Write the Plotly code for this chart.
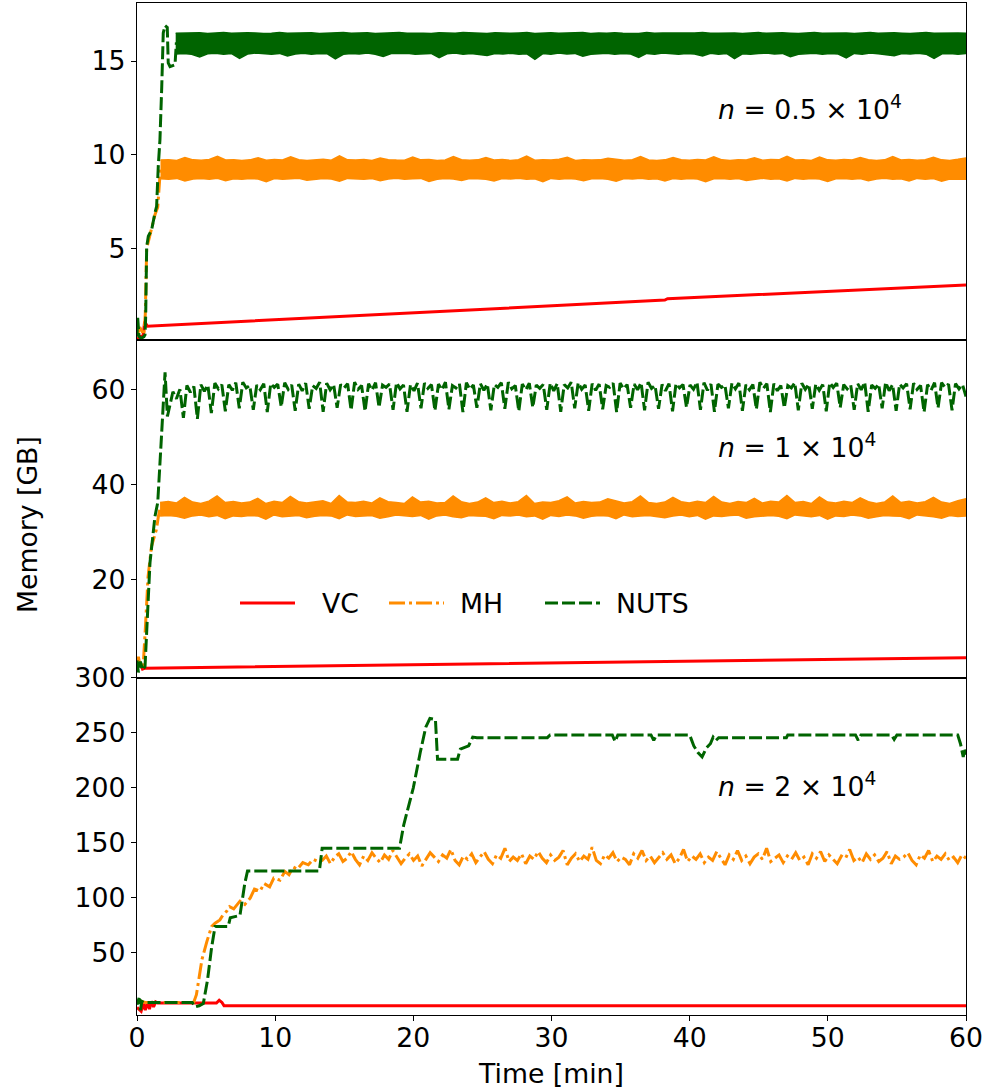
import numpy as np
import plotly.graph_objects as go
from plotly.subplots import make_subplots

RED = "#ff0000"
ORANGE = "#ff8c00"
GREEN = "#006400"
FONT = "DejaVu Sans"
FS = 26.7
DASH_NUTS = "13px,4px"
DASH_MH = "16px,4px,3px,4px"

# ---------------- n = 0.5 x 10^4 ----------------
vc1_t = [0, 0.25, 0.45, 0.55, 0.75, 20, 38.2, 38.4, 60]
vc1_v = [0.15, 0.3, 0.35, 1.1, 0.85, 1.55, 2.25, 2.32, 3.05]

mh1_t = [0, 0.2, 0.5, 0.6, 0.7, 0.9, 1.1, 1.3, 1.5, 1.62, 1.7]
mh1_v = [0.3, 0.8, 0.4, 1.5, 5.0, 5.6, 6.1, 6.8, 7.2, 8.8, 9.3]
mh1_band = (1.7, 60.0)
mh1_hi = [9.72, 9.74, 9.70, 9.86, 9.73, 9.71, 9.75, 9.92, 9.72, 9.74,
          9.70, 9.73, 9.84, 9.71, 9.75, 9.72, 9.89, 9.74, 9.70, 9.73,
          9.76, 9.71, 9.94, 9.73, 9.72, 9.75, 9.70, 9.83, 9.74, 9.72,
          9.71, 9.88, 9.73, 9.75, 9.70, 9.72, 9.90, 9.74, 9.71, 9.73,
          9.85, 9.72, 9.75, 9.70, 9.74, 9.93, 9.71, 9.73, 9.72, 9.76,
          9.87, 9.70, 9.74, 9.72, 9.73, 9.82, 9.75, 9.71, 9.74, 9.91,
          9.72, 9.70, 9.73, 9.86, 9.74, 9.71, 9.75, 9.72, 9.89, 9.73,
          9.70, 9.74, 9.72, 9.84, 9.71, 9.75, 9.73, 9.92, 9.72, 9.74,
          9.70, 9.88, 9.73, 9.71, 9.75, 9.72, 9.85, 9.74, 9.70, 9.73,
          9.90, 9.72, 9.75, 9.71, 9.74, 9.87, 9.73, 9.70, 9.76, 9.83]
mh1_lo = [8.72, 8.70, 8.74, 8.60, 8.71, 8.73, 8.69, 8.75, 8.62, 8.72,
          8.70, 8.74, 8.71, 8.57, 8.73, 8.69, 8.72, 8.75, 8.64, 8.70,
          8.73, 8.71, 8.59, 8.74, 8.72, 8.70, 8.73, 8.61, 8.71, 8.75,
          8.69, 8.72, 8.74, 8.58, 8.70, 8.73, 8.71, 8.63, 8.74, 8.72,
          8.70, 8.60, 8.73, 8.71, 8.75, 8.69, 8.72, 8.56, 8.74, 8.70,
          8.73, 8.71, 8.62, 8.72, 8.74, 8.70, 8.59, 8.73, 8.71, 8.75,
          8.69, 8.72, 8.61, 8.74, 8.70, 8.73, 8.71, 8.57, 8.72, 8.74,
          8.70, 8.73, 8.63, 8.71, 8.75, 8.69, 8.72, 8.60, 8.74, 8.70,
          8.73, 8.71, 8.58, 8.72, 8.74, 8.70, 8.73, 8.62, 8.71, 8.75,
          8.69, 8.72, 8.60, 8.74, 8.70, 8.73, 8.59, 8.71, 8.72, 8.70]

nuts1_t = [0, 0.05, 0.15, 0.3, 0.5, 0.58, 0.63, 0.70, 0.82, 1.06, 1.3, 1.42,
           1.54, 1.66, 1.79, 1.90, 2.03, 2.19, 2.26, 2.39, 2.75, 2.85]
nuts1_v = [0.3, 1.3, 0.3, 0.2, 0.3, 0.4, 1.4, 5.1, 5.65, 6.0, 6.9, 7.25,
           9.4, 10.8, 13.6, 16.5, 16.9, 16.8, 14.9, 14.7, 14.8, 16.0]
nuts1_band = (2.8, 60.0)
nuts1_hi = [16.48, 16.50, 16.49, 16.51, 16.47, 16.50, 16.52, 16.49, 16.48, 16.51,
            16.50, 16.47, 16.49, 16.52, 16.48, 16.50, 16.49, 16.51, 16.47, 16.50,
            16.49, 16.52, 16.48, 16.50, 16.51, 16.47, 16.49, 16.50, 16.52, 16.48,
            16.50, 16.49, 16.47, 16.51, 16.50, 16.48, 16.52, 16.49, 16.50, 16.47,
            16.51, 16.49, 16.48, 16.50, 16.52, 16.47, 16.49, 16.51, 16.48, 16.50,
            16.49, 16.52, 16.47, 16.50, 16.48, 16.51, 16.49, 16.50, 16.47, 16.52,
            16.48, 16.50, 16.49, 16.51, 16.47, 16.50, 16.52, 16.48, 16.49, 16.51,
            16.50, 16.47, 16.49, 16.52, 16.48, 16.50, 16.51, 16.49, 16.47, 16.50,
            16.52, 16.48, 16.49, 16.51, 16.50, 16.47, 16.49, 16.52, 16.48, 16.50,
            16.51, 16.49, 16.47, 16.50, 16.52, 16.48, 16.49, 16.51, 16.50, 16.48]
nuts1_lo = [15.38, 15.41, 15.36, 15.22, 15.39, 15.42, 15.37, 15.40, 15.15, 15.38,
            15.43, 15.39, 15.36, 15.41, 15.27, 15.38, 15.42, 15.37, 15.40, 15.39,
            15.12, 15.36, 15.41, 15.38, 15.43, 15.37, 15.25, 15.40, 15.39, 15.42,
            15.36, 15.38, 15.41, 15.18, 15.39, 15.43, 15.37, 15.40, 15.36, 15.30,
            15.41, 15.38, 15.42, 15.37, 15.39, 15.10, 15.40, 15.36, 15.43, 15.38,
            15.41, 15.26, 15.37, 15.39, 15.42, 15.36, 15.40, 15.38, 15.20, 15.41,
            15.37, 15.43, 15.39, 15.36, 15.40, 15.38, 15.28, 15.42, 15.37, 15.41,
            15.13, 15.39, 15.36, 15.40, 15.43, 15.38, 15.41, 15.24, 15.37, 15.39,
            15.42, 15.36, 15.40, 15.38, 15.17, 15.41, 15.37, 15.43, 15.39, 15.36,
            15.29, 15.40, 15.38, 15.42, 15.37, 15.14, 15.39, 15.41, 15.36, 15.40]

# ---------------- n = 1 x 10^4 ----------------
vc2_t = [0, 0.2, 0.4, 0.6, 60]
vc2_v = [1.5, 2.6, 1.2, 1.4, 3.6]

mh2_t = [0, 0.1, 0.25, 0.45, 0.6, 0.8, 1.05, 1.4, 1.55, 1.67]
mh2_v = [2.5, 3.8, 1.5, 2.0, 9.5, 20.6, 27.0, 30.5, 33.3, 35.0]
mh2_band = (1.67, 60.0)
mh2_hi = [36.2, 36.4, 36.1, 37.3, 36.3, 36.0, 36.5, 37.6, 36.2, 36.4,
          36.1, 36.3, 37.1, 36.0, 36.5, 36.2, 37.5, 36.4, 36.1, 36.3,
          36.6, 36.0, 37.7, 36.3, 36.2, 36.5, 36.1, 37.2, 36.4, 36.2,
          36.0, 37.4, 36.3, 36.5, 36.1, 36.2, 37.6, 36.4, 36.0, 36.3,
          37.2, 36.2, 36.5, 36.1, 36.4, 37.7, 36.0, 36.3, 36.2, 36.6,
          37.4, 36.1, 36.4, 36.2, 36.3, 37.0, 36.5, 36.1, 36.4, 37.6,
          36.2, 36.0, 36.3, 37.3, 36.4, 36.1, 36.5, 36.2, 37.5, 36.3,
          36.0, 36.4, 36.2, 37.1, 36.1, 36.5, 36.3, 37.7, 36.2, 36.4,
          36.0, 37.4, 36.3, 36.1, 36.5, 36.2, 37.2, 36.4, 36.0, 36.3,
          37.6, 36.2, 36.5, 36.1, 36.4, 37.3, 36.3, 36.0, 36.6, 37.0]
mh2_lo = [33.4, 33.5, 33.3, 32.9, 33.4, 33.6, 33.2, 33.5, 32.8, 33.4,
          33.3, 33.5, 33.4, 32.7, 33.6, 33.2, 33.4, 33.5, 33.0, 33.3,
          33.5, 33.4, 32.8, 33.6, 33.3, 33.4, 33.5, 32.9, 33.2, 33.6,
          33.4, 33.3, 33.5, 32.7, 33.4, 33.6, 33.2, 33.0, 33.5, 33.4,
          33.3, 32.8, 33.5, 33.4, 33.6, 33.2, 33.4, 32.7, 33.5, 33.3,
          33.6, 33.4, 32.9, 33.3, 33.5, 33.4, 32.8, 33.6, 33.2, 33.4,
          33.5, 33.3, 33.0, 33.4, 33.6, 33.2, 33.5, 32.7, 33.4, 33.3,
          33.5, 33.6, 32.9, 33.2, 33.4, 33.5, 33.3, 32.8, 33.6, 33.4,
          33.2, 33.5, 32.7, 33.4, 33.3, 33.6, 33.4, 32.9, 33.2, 33.5,
          33.4, 33.3, 32.8, 33.6, 33.4, 33.2, 32.9, 33.5, 33.3, 33.4]

nuts2_t = [0, 0.1, 0.25, 0.4, 0.58, 0.94, 1.3, 1.5, 1.8, 2.03, 2.2, 2.4]
nuts2_v = [3.0, 0.5, 2.8, 1.0, 1.7, 23.6, 33.3, 36.2, 51.6, 63.6, 54.3, 57.0]
nuts2_cycle_span = (2.6, 60.0)
nuts2_cycles = [
    59.5, 58.0, 60.0, 54.0,  60.8, 59.4, 60.6, 53.8,  61.0, 59.6, 60.9, 55.0,
    61.3, 60.1, 61.0, 55.4,  61.0, 59.8, 61.4, 56.0,  61.5, 60.3, 60.8, 55.7,
    60.9, 59.9, 61.2, 55.2,  61.2, 60.4, 61.1, 56.3,  61.4, 60.0, 60.9, 55.5,
    61.1, 59.7, 61.3, 55.9,  60.8, 60.2, 61.5, 55.3,  61.3, 59.9, 61.0, 56.1,
    61.0, 60.3, 61.2, 55.6,  61.5, 60.0, 60.8, 55.4,  61.2, 59.8, 61.4, 56.2,
    60.9, 60.4, 61.1, 55.7,  61.4, 60.1, 60.9, 55.3,  61.0, 59.7, 61.3, 56.0,
    61.3, 60.2, 61.0, 55.5,  61.1, 59.9, 61.5, 55.8,  60.8, 60.3, 61.2, 55.2,
    61.4, 60.0, 60.9, 56.1,  61.2, 59.8, 61.1, 55.6,  61.0, 60.4, 61.4, 55.9,
    61.5, 60.1, 60.8, 55.4,  61.1, 59.9, 61.3, 56.2,  60.9, 60.2, 61.0, 55.7,
    61.3, 59.7, 61.2, 55.3,  61.0, 60.3, 61.5, 56.0,  61.4, 60.0, 60.9, 55.5,
    61.2, 59.8, 61.1, 55.8,  60.8, 60.4, 61.3, 55.2,  61.3, 60.1, 61.0, 56.1,
    61.1, 59.9, 61.4, 55.6,  61.5, 60.2, 60.8, 55.9,  61.0, 59.7, 61.2, 55.4,
    61.2, 60.3, 61.0, 56.2,  60.9, 60.0, 61.5, 55.7,  61.4, 59.8, 61.1, 55.3,
    61.1, 60.4, 60.9, 56.0,  61.3, 60.1, 61.3, 55.5,  61.0, 59.9, 61.0, 55.8,
    61.5, 60.2, 61.2, 55.2,  61.2, 59.7, 60.8, 56.1,  60.8, 60.3, 61.4, 55.6,
    61.3, 60.0, 61.1, 55.9,  61.1, 59.8, 61.0, 55.4,  61.4, 60.4, 61.3, 56.2,
    61.0, 60.1, 60.9, 55.7,  61.2, 59.9, 61.5, 55.3,  60.9, 60.2, 61.1, 56.0,
    61.5, 59.7, 61.0, 55.5,  61.1, 60.3, 61.2, 55.8,  61.3, 60.0, 60.8, 55.2,
    61.0, 59.8, 61.4, 56.1,  61.4, 60.4, 61.1, 55.6,  61.2, 60.1, 61.0, 58.5]

# ---------------- n = 2 x 10^4 ----------------
vc3_t = [0, 0.3, 0.45, 0.6, 0.75, 0.9, 1.05, 1.2, 1.35, 1.5, 5.75, 5.95, 6.15, 6.3, 60]
vc3_v = [0.5, -3.0, 4.0, -2.0, 5.0, -1.0, 6.0, 1.0, 5.5, 4.5, 4.5, 7.0, 5.0, 2.0, 2.0]

mh3_t = [0, 0.3, 0.6, 4.1, 4.3, 4.5, 4.7, 5.05, 5.4, 5.65, 6.0, 6.2, 6.5, 6.7, 7.0,
         7.45, 7.8, 8.2, 8.5, 8.9, 9.2, 9.6, 9.9, 10.35, 10.7, 11.0, 11.3, 11.6,
         12.0, 12.4, 12.75, 13.1]
mh3_v = [5, 6, 5, 5, 12, 30, 44, 60, 74, 77, 80, 84, 88, 92, 90,
         97, 94, 100, 108, 106, 113, 110, 118, 116, 124, 121, 128, 126,
         132, 130, 135, 133]
mh3_noise_span = (13.4, 60.0)
mh3_noise = [134, 138, 131, 137, 140, 133, 136, 142, 135, 130,
             138, 134, 141, 136, 132, 139, 135, 143, 137, 131,
             136, 140, 134, 138, 129, 135, 141, 137, 133, 139,
             136, 144, 134, 130, 138, 135, 140, 132, 137, 142,
             135, 131, 139, 136, 145, 133, 137, 134, 140, 131,
             138, 135, 142, 136, 132, 139, 134, 137, 143, 130,
             136, 140, 133, 138, 135, 146, 134, 131, 139, 136,
             141, 133, 137, 135, 130, 140, 136, 143, 134, 138,
             132, 137, 141, 135, 139, 131, 136, 144, 133, 138,
             135, 140, 132, 137, 134, 142, 136, 130, 139, 135,
             143, 134, 138, 131, 137, 140, 135, 145, 133, 136,
             139, 132, 138, 135, 141, 134, 137, 130, 140, 136,
             142, 133, 139, 135, 131, 138, 136, 144, 134, 137,
             132, 140, 135, 139, 133, 136, 142, 131, 138, 135,
             137, 141, 134, 130, 139, 136, 143, 133, 138, 135,
             140, 134, 137, 132, 139, 136]

nuts3_t = [0, 0.15, 0.25, 0.35, 0.5, 4.0, 4.2, 4.5, 4.8, 5.1, 5.4, 5.65, 6.6, 6.75,
           7.45, 7.8, 8.0, 13.2, 13.4, 19.0, 19.3, 20.0, 20.5, 20.9, 21.2, 21.6,
           21.75, 23.2, 23.4, 24.0, 24.3, 24.6, 29.7, 29.9, 34.4, 34.6, 34.8,
           37.2, 37.4, 37.6, 40.0, 40.3, 40.6, 40.9, 41.2, 41.5, 41.7, 41.9,
           42.1, 47.0, 47.1, 52.0, 52.2, 52.4, 54.6, 54.8, 55.0, 59.4, 59.6,
           59.8, 59.9, 60.0]
nuts3_v = [3, 9, -2, 6, 5, 5, 1, 2, 4, 25, 55, 74, 74, 82,
           84, 113, 124.5, 124.5, 145, 145, 166, 200, 232, 255, 263, 262,
           226, 226, 235, 238, 246, 245.5, 245.5, 248, 248, 242, 248,
           248, 243, 248, 248, 238, 232, 228, 236, 240, 246, 243,
           245.5, 245.5, 248, 248, 243, 248, 248, 244, 248, 248, 240,
           228, 236, 230]

annotations_text = ["<i>n</i> = 0.5 × 10<sup>4</sup>",
                    "<i>n</i> = 1 × 10<sup>4</sup>",
                    "<i>n</i> = 2 × 10<sup>4</sup>"]
series_names = ["VC", "MH", "NUTS"]
series_colors = [RED, ORANGE, GREEN]
series_dashes = ["solid", DASH_MH, DASH_NUTS]

y_ranges = [[0.1, 18.1], [-0.6, 70.3], [-6.4, 300]]
y_ticks = [[5, 10, 15], [20, 40, 60], [50, 100, 150, 200, 250, 300]]
x_ticks = [0, 10, 20, 30, 40, 50, 60]

fig = make_subplots(rows=3, cols=1, shared_xaxes=True, vertical_spacing=0)


def line(t, v, color, dash, row):
    fig.add_trace(go.Scatter(x=t, y=v, mode="lines", showlegend=False,
                             line=dict(color=color, width=3, dash=dash)),
                  row=row, col=1)


def band(span, hi, lo, color, row):
    t = np.linspace(span[0], span[1], len(hi)).tolist()
    fig.add_trace(go.Scatter(x=t + t[::-1], y=list(hi) + list(lo)[::-1],
                             mode="lines", fill="toself", fillcolor=color,
                             line=dict(color=color, width=1.5),
                             showlegend=False, hoverinfo="skip"),
                  row=row, col=1)


# n = 0.5e4
line(vc1_t, vc1_v, RED, "solid", 1)
line(mh1_t, mh1_v, ORANGE, DASH_MH, 1)
band(mh1_band, mh1_hi, mh1_lo, ORANGE, 1)
line(nuts1_t, nuts1_v, GREEN, DASH_NUTS, 1)
band(nuts1_band, nuts1_hi, nuts1_lo, GREEN, 1)

# n = 1e4
line(vc2_t, vc2_v, RED, "solid", 2)
line(mh2_t, mh2_v, ORANGE, DASH_MH, 2)
band(mh2_band, mh2_hi, mh2_lo, ORANGE, 2)
nuts2_ct = np.linspace(nuts2_cycle_span[0], nuts2_cycle_span[1], len(nuts2_cycles)).tolist()
line(nuts2_t + nuts2_ct, nuts2_v + nuts2_cycles, GREEN, DASH_NUTS, 2)

# n = 2e4
line(vc3_t, vc3_v, RED, "solid", 3)
mh3_nt = np.linspace(mh3_noise_span[0], mh3_noise_span[1], len(mh3_noise)).tolist()
line(mh3_t + mh3_nt, mh3_v + mh3_noise, ORANGE, DASH_MH, 3)
line(nuts3_t, nuts3_v, GREEN, DASH_NUTS, 3)

axis_common = dict(showline=True, mirror=True, linecolor="black", linewidth=1.3,
                   ticks="outside", ticklen=5, tickwidth=1.3, tickcolor="black",
                   showgrid=False, zeroline=False, automargin=False,
                   tickfont=dict(family=FONT, size=FS, color="black"))

for i in range(3):
    fig.update_yaxes(range=y_ranges[i], tickvals=y_ticks[i], row=i + 1, col=1, **axis_common)
    fig.update_xaxes(range=[0, 60], tickvals=x_ticks, row=i + 1, col=1, **axis_common)
    if i < 2:
        fig.update_xaxes(showticklabels=False, ticks="", row=i + 1, col=1)
fig.update_xaxes(ticklabelstandoff=-6, row=3, col=1)

# plot area: x 137..966 px, y 3..1015 px
L, R, T, B = 137, 21, 3, 76
W, H = 987, 1091
PW, PH = W - L - R, H - T - B


def px(x):
    return (x - L) / PW


def py(y):
    return (H - B - y) / PH


ann = []
for txt, yc in zip(annotations_text, [108, 446, 785]):
    ann.append(dict(text=txt, x=px(716), y=py(yc), xref="paper", yref="paper",
                    xanchor="left", yanchor="middle", showarrow=False,
                    font=dict(family=FONT, size=FS, color="black")))
ann.append(dict(text="Memory [GB]", x=px(27), y=py(525), xref="paper", yref="paper",
                textangle=-90, showarrow=False, xanchor="center", yanchor="middle",
                font=dict(family=FONT, size=FS, color="black")))
ann.append(dict(text="Time [min]", x=px(551), y=py(1073), xref="paper", yref="paper",
                showarrow=False, xanchor="center", yanchor="middle",
                font=dict(family=FONT, size=FS, color="black")))

# legend drawn inside the middle panel
shapes = []
leg_y = py(603)
for name, color, dash, x0, xt in zip(series_names, series_colors, series_dashes,
                                     [240, 389, 545], [320, 458, 614]):
    shapes.append(dict(type="line", xref="paper", yref="paper",
                       x0=px(x0), x1=px(x0 + 55), y0=leg_y, y1=leg_y,
                       line=dict(color=color, width=3, dash=dash)))
    ann.append(dict(text=name, x=px(xt), y=leg_y, xref="paper", yref="paper",
                    xanchor="left", yanchor="middle", showarrow=False,
                    font=dict(family=FONT, size=FS, color="black")))

fig.update_layout(width=W, height=H, margin=dict(l=L, r=R, t=T, b=B),
                  plot_bgcolor="white", paper_bgcolor="white",
                  font=dict(family=FONT, size=FS, color="black"),
                  annotations=ann, shapes=shapes, showlegend=False)

fig.write_html("out.html")
